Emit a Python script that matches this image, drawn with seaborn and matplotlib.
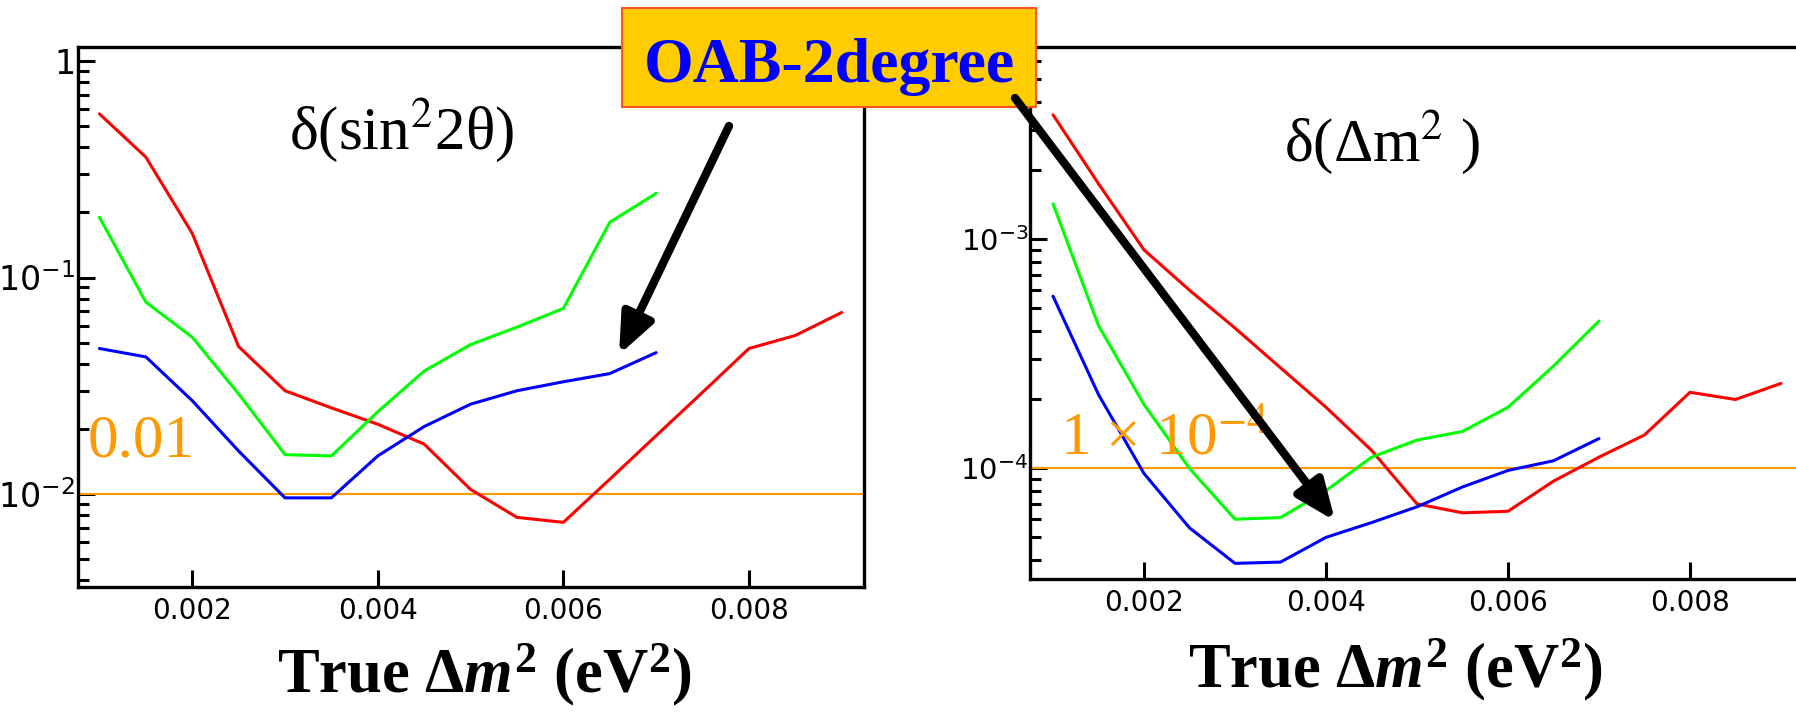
import numpy as np
import pandas as pd
import matplotlib
matplotlib.use("Agg")
import matplotlib.pyplot as plt
import seaborn as sns
from matplotlib.patches import Rectangle, ConnectionPatch, ArrowStyle
from matplotlib.ticker import FixedLocator, LogLocator, NullFormatter

# True Δm² grid (eV²)
dm2_short = [0.001, 0.0015, 0.002, 0.0025, 0.003, 0.0035, 0.004,
             0.0045, 0.005, 0.0055, 0.006, 0.0065, 0.007]
dm2_long = dm2_short + [0.0075, 0.008, 0.0085, 0.009]

# Resolution on sin²2θ
sin_red = [0.57, 0.36, 0.16, 0.048, 0.030, 0.025, 0.021, 0.017, 0.0105,
           0.0078, 0.0074, 0.0117, 0.0186, 0.0295, 0.047, 0.054, 0.069]
sin_green = [0.19, 0.077, 0.053, 0.029, 0.0152, 0.0150, 0.024, 0.037,
             0.049, 0.059, 0.072, 0.18, 0.245]
sin_blue = [0.047, 0.043, 0.027, 0.0158, 0.0096, 0.0096, 0.0150, 0.0205,
            0.026, 0.030, 0.033, 0.036, 0.045]

# Resolution on Δm²
dm_red = [3.5e-3, 1.75e-3, 9.0e-4, 6.0e-4, 4.1e-4, 2.75e-4, 1.85e-4, 1.2e-4,
          7.0e-5, 6.4e-5, 6.5e-5, 8.8e-5, 1.12e-4, 1.4e-4, 2.15e-4, 2.0e-4,
          2.35e-4]
dm_green = [1.43e-3, 4.2e-4, 1.9e-4, 1.0e-4, 6.0e-5, 6.1e-5, 8.0e-5,
            1.12e-4, 1.33e-4, 1.45e-4, 1.85e-4, 2.8e-4, 4.4e-4]
dm_blue = [5.65e-4, 2.1e-4, 9.5e-5, 5.5e-5, 3.85e-5, 3.9e-5, 5.0e-5,
           5.8e-5, 6.8e-5, 8.3e-5, 9.8e-5, 1.08e-4, 1.35e-4]

# Goal levels
sin_goal = 0.01
dm_goal = 1e-4

x_ticks = [0.002, 0.004, 0.006, 0.008]
x_tick_labels = ["0.002", "0.004", "0.006", "0.008"]
sin_major = [1e-2, 1e-1, 1.0]
sin_major_labels = [r"$10^{-2}$", r"$10^{-1}$", "1"]
dm_major = [1e-4, 1e-3]
dm_major_labels = [r"$10^{-4}$", r"$10^{-3}$"]

palette = {"red": "#FF0000", "green": "#00FF00", "blue": "#0000FF"}
goal_color = "#FF9900"


def long_table(red, green, blue):
    frames = [
        pd.DataFrame({"dm2": dm2_long, "value": red, "series": "red"}),
        pd.DataFrame({"dm2": dm2_short, "value": green, "series": "green"}),
        pd.DataFrame({"dm2": dm2_short, "value": blue, "series": "blue"}),
    ]
    return pd.concat(frames, ignore_index=True)


sin_df = long_table(sin_red, sin_green, sin_blue)
dm_df = long_table(dm_red, dm_green, dm_blue)

sns.set_theme(style="ticks")
plt.rcParams["font.family"] = ["DejaVu Sans"]
plt.rcParams["text.color"] = "black"
plt.rcParams["axes.labelcolor"] = "black"
plt.rcParams["xtick.color"] = "black"
plt.rcParams["ytick.color"] = "black"
plt.rcParams["mathtext.fontset"] = "custom"
plt.rcParams["mathtext.rm"] = "Liberation Serif:bold"
plt.rcParams["mathtext.it"] = "Liberation Serif:italic:bold"
plt.rcParams["mathtext.bf"] = "Liberation Serif:bold"

W, H = 1796, 712
fig = plt.figure(figsize=(W / 100, H / 100), dpi=100)
fig.patch.set_facecolor("white")


def px_axes(x0, y0, x1, y1):
    return fig.add_axes([x0 / W, 1 - y1 / H, (x1 - x0) / W, (y1 - y0) / H])


ax1 = px_axes(78, 47, 864, 587)
ax2 = px_axes(1030, 47, 1796, 579)

for ax, df in ((ax1, sin_df), (ax2, dm_df)):
    sns.lineplot(data=df, x="dm2", y="value", hue="series", palette=palette,
                 estimator=None, sort=False, legend=False, linewidth=2.2,
                 ax=ax)
    ax.set_yscale("log")
    ax.set_facecolor("white")
    ax.set_xlabel("")
    ax.set_ylabel("")
    ax.xaxis.set_major_locator(FixedLocator(x_ticks))
    ax.set_xticklabels(x_tick_labels, fontsize=20, family="DejaVu Sans",
                       color="black")
    ax.yaxis.set_minor_locator(LogLocator(base=10, subs=np.arange(2, 10), numticks=20))
    ax.yaxis.set_minor_formatter(NullFormatter())
    ax.tick_params(axis="both", which="major", direction="in", length=12,
                   width=2.2, color="black", labelcolor="black",
                   top=False, right=False)
    ax.tick_params(axis="y", which="minor", direction="in", length=8,
                   width=2.2, color="black", right=False)
    ax.tick_params(axis="x", which="major", pad=7)
    for side, sp in ax.spines.items():
        sp.set_color("black")
        sp.set_linewidth(2.4)

ax2.spines["right"].set_visible(False)

# δ(sin²2θ) panel
ax1.set_xlim(0.000769, 0.00924)
ax1.set_ylim(0.00372, 1.161)
ax1.yaxis.set_major_locator(FixedLocator(sin_major))
ax1.set_yticklabels(sin_major_labels, fontsize=24, family="DejaVu Sans",
                    math_fontfamily="dejavusans", color="black")
ax1.tick_params(axis="y", which="major", pad=2)
ax1.axhline(sin_goal, color=goal_color, linewidth=1.5, zorder=1)
ax1.text(0.0127, 0.241, "0.01", transform=ax1.transAxes, color=goal_color,
         fontsize=44, family="Liberation Serif", va="baseline", ha="left")
ax1.text(0.412, 0.846, "δ(sin$^{2}$2θ)", transform=ax1.transAxes,
         color="black", fontsize=44, family="Liberation Serif",
         math_fontfamily="stix", va="center", ha="center")

# δ(Δm²) panel
ax2.set_xlim(0.000747, 0.009165)
ax2.set_ylim(3.29e-5, 6.92e-3)
ax2.yaxis.set_major_locator(FixedLocator(dm_major))
ax2.set_yticklabels(dm_major_labels, fontsize=21, family="DejaVu Sans",
                    math_fontfamily="dejavusans", color="black")
ax2.tick_params(axis="y", which="major", pad=1)
ax2.axhline(dm_goal, color=goal_color, linewidth=1.5, zorder=1)
ax2.text(0.039, 0.233, "1 × 10$^{-4}$", transform=ax2.transAxes,
         color=goal_color, fontsize=44, family="Liberation Serif",
         math_fontfamily="stix", va="baseline", ha="left")
ax2.text(0.4595, 0.821, "δ(Δm$^{2}$ )", transform=ax2.transAxes,
         color="black", fontsize=44, family="Liberation Serif",
         math_fontfamily="stix", va="center", ha="center")

xlabel = r"True $\Delta m^{2}$ (eV$^{2}$)"
for ax, cx, top in ((ax1, 0.5165, -0.10), (ax2, 0.4765, -0.107)):
    ax.set_xlabel(xlabel, fontsize=45, family="Liberation Serif",
                  fontweight="bold", math_fontfamily="custom", color="black")
    ax.xaxis.set_label_coords(cx, top)
    ax.xaxis.label.set_va("top")

# Label box for the off-axis configuration
fig.add_artist(Rectangle((622 / W, 1 - 107 / H), 414 / W, 99 / H,
                         transform=fig.transFigure, facecolor="#FFCC00",
                         edgecolor="#FF5522", linewidth=1.5, zorder=4))
fig.text(829 / W, 1 - 82 / H, "OAB-2degree", color="#0000FF", fontsize=46,
         family="Liberation Serif", fontweight="bold", ha="center",
         va="baseline", zorder=5)

head = ArrowStyle("-|>", head_length=1.2, head_width=0.5)
for ax, tail, tip in ((ax1, (729, 126), (0.0066, 0.044)),
                      (ax2, (1015, 98), (0.0041, 5.9e-5))):
    arrow = ConnectionPatch(xyA=(tail[0] / W, 1 - tail[1] / H),
                            coordsA=fig.transFigure,
                            xyB=tip, coordsB=ax.transData,
                            arrowstyle=head, mutation_scale=20,
                            linewidth=6, color="black",
                            shrinkA=0, shrinkB=0, zorder=6)
    fig.add_artist(arrow)

fig.savefig("out.png", dpi=100, facecolor="white")
